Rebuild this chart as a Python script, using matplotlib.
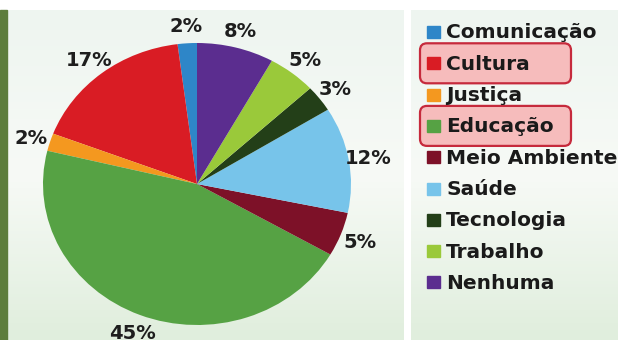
import matplotlib.pyplot as plt
import numpy as np
from matplotlib.patches import Rectangle, FancyBboxPatch
from matplotlib.colors import LinearSegmentedColormap
from matplotlib.transforms import offset_copy

# data
categories = ["Comunicação", "Cultura", "Justiça", "Educação", "Meio Ambiente",
              "Saúde", "Tecnologia", "Trabalho", "Nenhuma"]
shares = [2, 17, 2, 45, 5, 12, 3, 5, 8]
colors = ["#2e86c8", "#d91c24", "#f4981f", "#56a244", "#7d1128",
          "#77c4ea", "#233f18", "#9ac93a", "#5b2d8f"]
highlighted = ["Cultura", "Educação"]

W, H = 618, 340
fig = plt.figure(figsize=(W / 100, H / 100), dpi=100)
fig.patch.set_facecolor("white")

# background in pixel coords
bg = fig.add_axes([0, 0, 1, 1])
bg.set_xlim(0, W)
bg.set_ylim(H, 0)
bg.axis("off")
grad = np.linspace(0, 1, 100)[:, None]
cmap = LinearSegmentedColormap.from_list("bgc", ["#eef5f0", "#f7faf6", "#e0eedd"])
bg.imshow(grad, cmap=cmap, extent=[7, 404, H, 10], aspect="auto", zorder=0)
bg.imshow(grad, cmap=cmap, extent=[411, W, H, 10], aspect="auto", zorder=0)
bg.add_patch(Rectangle((0, 10), 7, H - 10, color="#5d7d3c", zorder=1))

# pie, slightly wider than tall like the original
cx, cy, rx, ry = 197, 184, 154, 141
pie_ax = fig.add_axes([(cx - rx) / W, (H - cy - ry) / H, 2 * rx / W, 2 * ry / H])
wedges, texts, autotexts = pie_ax.pie(
    shares, colors=colors, startangle=90, counterclock=True,
    autopct="%d%%", pctdistance=1.13,
    wedgeprops=dict(linewidth=0),
    textprops=dict(fontsize=14, fontweight="bold", color="#1e1e1e"))
for t, v in zip(autotexts, shares):
    t.set_text(f"{v}%")
    t.set_transform(offset_copy(t.get_transform(), fig=fig, x=0, y=-2, units="dots"))
pie_ax.set_aspect("auto")
pie_ax.set_xlim(-1, 1)
pie_ax.set_ylim(-1, 1)

# legend panel
lg = fig.add_axes([0, 0, 1, 1], zorder=3)
lg.set_xlim(0, W)
lg.set_ylim(H, 0)
lg.axis("off")
y0, step = 32, 31.3
for i, (name, col) in enumerate(zip(categories, colors)):
    y = y0 + i * step
    if name in highlighted:
        lg.add_patch(FancyBboxPatch((420, y - 20), 151, 40,
                                    boxstyle="round,pad=0,rounding_size=7",
                                    facecolor="#f6bcbc", edgecolor="#c62a3c",
                                    linewidth=1.6, zorder=1))
    lg.add_patch(Rectangle((427, y - 6), 13, 12, color=col, zorder=2))
    lg.text(446, y + 1, name, fontsize=14.5, fontweight="bold",
            color="#1a1a1a", va="center", ha="left", zorder=3)

fig.savefig("out.png", dpi=100)
